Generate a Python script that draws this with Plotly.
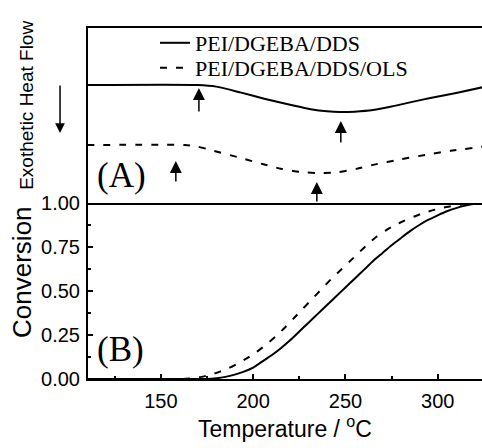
import plotly.graph_objects as go

# ---- data ----
heat_T_solid = [110, 170, 180, 193, 206, 220, 232, 240, 247, 255, 265, 275, 285, 296, 310, 325]
heat_solid = [0.674, 0.674, 0.665, 0.632, 0.596, 0.561, 0.534, 0.524, 0.520, 0.522, 0.531, 0.551, 0.575, 0.600, 0.629, 0.663]

heat_T_dash = [110, 163, 170, 178, 193, 205, 215, 225, 235, 245, 256, 265, 280, 295, 307, 325]
heat_dash = [0.331, 0.331, 0.322, 0.300, 0.258, 0.223, 0.196, 0.178, 0.171, 0.174, 0.195, 0.218, 0.250, 0.278, 0.298, 0.323]

conv_T_solid = [110, 175, 180, 185, 190, 195, 200, 205, 210, 215, 220, 225, 230, 235, 240, 245, 250,
                255, 260, 265, 270, 275, 280, 285, 290, 295, 300, 305, 310, 315, 320, 325]
conv_solid = [0, 0, 0.004, 0.012, 0.025, 0.042, 0.065, 0.1, 0.135, 0.175, 0.22, 0.27, 0.32, 0.37, 0.42,
              0.47, 0.52, 0.57, 0.62, 0.67, 0.715, 0.76, 0.80, 0.84, 0.875, 0.905, 0.93, 0.953, 0.971,
              0.985, 0.995, 1.0]

conv_T_dash = [110, 162, 167, 172, 177, 182, 187, 192, 197, 202, 207, 212, 217, 222, 227, 232, 237, 242,
               247, 252, 257, 262, 267, 272, 277, 282, 287, 292, 297, 302, 307, 312, 318, 325]
conv_dash = [0, 0, 0.004, 0.012, 0.025, 0.042, 0.063, 0.09, 0.12, 0.155, 0.195, 0.24, 0.29, 0.345, 0.40,
             0.455, 0.51, 0.565, 0.615, 0.665, 0.715, 0.765, 0.81, 0.845, 0.875, 0.9, 0.922, 0.942,
             0.958, 0.971, 0.982, 0.99, 0.997, 1.0]

# arrows: (temperature, tip value, tail value)
arrow_T = [170.6, 247.5, 158.1, 234.5]
arrow_tip = [0.657, 0.469, 0.240, 0.120]
arrow_tail = [0.514, 0.337, 0.114, 0.0]

series_names = ["PEI/DGEBA/DDS", "PEI/DGEBA/DDS/OLS"]
x_ticks = [150, 200, 250, 300]
y_ticks = [0, 0.25, 0.5, 0.75, 1.0]

SANS = "Liberation Sans, Arial, sans-serif"
SERIF = "Liberation Serif, Times New Roman, serif"
DASH = "7px,9px"

fig = go.Figure()
fig.add_trace(go.Scatter(x=heat_T_solid, y=heat_solid, xaxis="x2", yaxis="y2",
                         mode="lines", line=dict(color="black", width=2, shape="spline", smoothing=0.6),
                         name=series_names[0], legend="legend"))
fig.add_trace(go.Scatter(x=heat_T_dash, y=heat_dash, xaxis="x2", yaxis="y2",
                         mode="lines", line=dict(color="black", width=2, dash=DASH, shape="spline", smoothing=0.6),
                         name=series_names[1], legend="legend2"))
fig.add_trace(go.Scatter(x=conv_T_solid, y=conv_solid, mode="lines",
                         line=dict(color="black", width=2, shape="spline", smoothing=0.4),
                         showlegend=False, name=series_names[0]))
fig.add_trace(go.Scatter(x=conv_T_dash, y=conv_dash, mode="lines",
                         line=dict(color="black", width=2, dash=DASH, shape="spline", smoothing=0.4),
                         showlegend=False, name=series_names[1]))

annotations = []
for T, tip, tail in zip(arrow_T, arrow_tip, arrow_tail):
    annotations.append(dict(x=T, y=tip, xref="x2", yref="y2", ax=T, ay=tail,
                            axref="x2", ayref="y2", text="", showarrow=True,
                            arrowhead=2, arrowsize=1.6, arrowwidth=1.5, arrowcolor="black", standoff=0))
# down arrow beside the axis
annotations.append(dict(x=-0.071, y=0.701, xref="paper", yref="paper", ax=0, ay=-49,
                        text="", showarrow=True, arrowhead=2, arrowsize=1.3, arrowwidth=1.5,
                        arrowcolor="black", standoff=0))
annotations.append(dict(x=0.018, y=0.581, xref="paper", yref="paper", text="(A)", showarrow=False,
                        xanchor="left", yanchor="middle", font=dict(family=SERIF, size=35, color="black")))
annotations.append(dict(x=0.018, y=0.083, xref="paper", yref="paper", text="(B)", showarrow=False,
                        xanchor="left", yanchor="middle", font=dict(family=SERIF, size=35, color="black")))
# y-axis titles
annotations.append(dict(x=-0.155, y=0.781, xref="paper", yref="paper", text="Exothetic Heat Flow",
                        textangle=-90, showarrow=False, xanchor="center", yanchor="middle",
                        font=dict(family=SANS, size=19, color="black")))
annotations.append(dict(x=-0.1675, y=0.305, xref="paper", yref="paper", text="Conversion",
                        textangle=-90, showarrow=False, xanchor="center", yanchor="middle",
                        font=dict(family=SANS, size=26, color="black")))

split = 176 / 351
legend_font = dict(family=SERIF, size=22, color="black")

fig.update_layout(
    width=482, height=448,
    margin=dict(l=88, r=0, t=28, b=69),
    paper_bgcolor="white", plot_bgcolor="white",
    showlegend=True,
    legend=dict(x=0.17, y=(379 - 43) / 351, xanchor="left", yanchor="middle",
                bgcolor="rgba(0,0,0,0)", font=legend_font),
    legend2=dict(x=0.17, y=(379 - 68) / 351, xanchor="left", yanchor="middle",
                 bgcolor="rgba(0,0,0,0)", font=legend_font),
    xaxis=dict(range=[110.5, 324], tickvals=x_ticks, ticks="inside", ticklen=5, tickwidth=1.5,
               tickcolor="black", showline=True, linewidth=2, linecolor="black", mirror=False,
               showgrid=False, zeroline=False, anchor="y",
               minor=dict(dtick=25, tick0=125, ticks="inside", ticklen=3, tickwidth=1.5, tickcolor="black"),
               tickfont=dict(family=SANS, size=20, color="black"), ticklabelstandoff=3,
               title=dict(text="Temperature / <sup>o</sup>C", font=dict(family=SANS, size=23, color="black"),
                          standoff=0)),
    xaxis2=dict(matches="x", anchor="y2", showline=True, linewidth=2, linecolor="black", mirror=True,
                showticklabels=False, ticks="", showgrid=False, zeroline=False),
    yaxis=dict(domain=[0, split], range=[0, 1], tickvals=y_ticks, tickformat=".2f", ticks="inside",
               ticklen=5, tickwidth=1.5, tickcolor="black", showline=True, linewidth=2, linecolor="black",
               showgrid=False, zeroline=False,
               minor=dict(dtick=0.125, tick0=0.125, ticks="inside", ticklen=3, tickwidth=1.5, tickcolor="black"),
               tickfont=dict(family=SANS, size=20, color="black"), ticklabelstandoff=2),
    yaxis2=dict(domain=[split, 1], range=[0, 1], showticklabels=False, ticks="", showline=True,
                linewidth=2, linecolor="black", showgrid=False, zeroline=False, anchor="x2"),
    annotations=annotations,
)

fig.write_html("out.html")
